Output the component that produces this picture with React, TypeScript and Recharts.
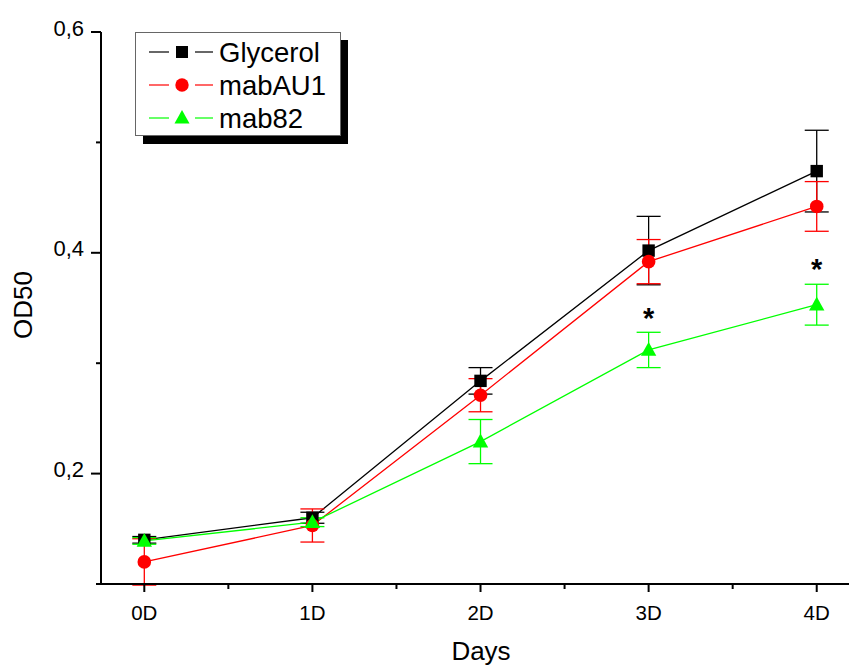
import React from 'react';
import { LineChart, Line, XAxis, YAxis, ErrorBar } from 'recharts';

const dayLabels = ['0D', '1D', '2D', '3D', '4D'];
const glycerol = [0.14, 0.16, 0.284, 0.402, 0.474];
const glycerolErr = [0.003, 0.005, 0.012, 0.031, 0.037];
const mabAU1 = [0.12, 0.153, 0.271, 0.392, 0.442];
const mabAU1Err = [0.021, 0.015, 0.015, 0.02, 0.0225];
const mab82 = [0.139, 0.156, 0.229, 0.312, 0.353];
const mab82Err = [0.003, 0.004, 0.02, 0.016, 0.0185];
const asterisks = [null, null, null, 0.346, 0.391];

const xTicks = [0, 0.5, 1, 1.5, 2, 2.5, 3, 3.5, 4];
const yTicks = [0.1, 0.2, 0.3, 0.4, 0.5, 0.6];
const yLabelled = [0.2, 0.4, 0.6];

const data = dayLabels.map((d, i) => ({
  x: i,
  gly: glycerol[i],
  glyErr: glycerolErr[i],
  au: mabAU1[i],
  auErr: mabAU1Err[i],
  m82: mab82[i],
  m82Err: mab82Err[i],
  star: asterisks[i],
}));

const FONT = '"Liberation Sans", Arial, sans-serif';
const BLACK = '#000000';
const RED = '#ff0000';
const GREEN = '#00ff00';

const XTick = (props: any) => {
  const { x, y, payload } = props;
  const v = payload.value;
  const major = Number.isInteger(v);
  return (
    <g>
      <line x1={x} x2={x} y1={y} y2={y + (major ? 8 : 5)} stroke="#000" strokeWidth={2} />
      {major && (
        <text x={x} y={y + 36} textAnchor="middle" fontSize={20.5} fontFamily={FONT} fill="#000">
          {dayLabels[v]}
        </text>
      )}
    </g>
  );
};

const YTick = (props: any) => {
  const { x, y, payload } = props;
  const v = Math.round(payload.value * 10) / 10;
  const labelled = yLabelled.some((t) => Math.abs(t - v) < 1e-6);
  const len = labelled ? 10 : 5;
  return (
    <g>
      <line x1={x - len} x2={x} y1={y} y2={y} stroke="#000" strokeWidth={2} />
      {labelled && (
        <text x={x - 17} y={y + 3.5} textAnchor="end" fontSize={22} fontFamily={FONT} fill="#000">
          {v.toFixed(1).replace('.', ',')}
        </text>
      )}
    </g>
  );
};

const SquareDot = (props: any) => {
  const { cx, cy } = props;
  if (cx == null || cy == null) return <g />;
  return <rect x={cx - 6.2} y={cy - 6.2} width={12.4} height={12.4} fill={BLACK} />;
};

const CircleDot = (props: any) => {
  const { cx, cy } = props;
  if (cx == null || cy == null) return <g />;
  return <circle cx={cx} cy={cy} r={6.8} fill={RED} />;
};

const TriDot = (props: any) => {
  const { cx, cy } = props;
  if (cx == null || cy == null) return <g />;
  return <polygon points={`${cx},${cy - 8} ${cx + 7.7},${cy + 5.8} ${cx - 7.7},${cy + 5.8}`} fill={GREEN} />;
};

const StarDot = (props: any) => {
  const { cx, cy, payload } = props;
  if (cx == null || cy == null || payload.star == null) return <g />;
  return (
    <text x={cx} y={cy + 16} textAnchor="middle" fontSize={29} fontWeight="bold" fontFamily={FONT} fill="#000">
      *
    </text>
  );
};

const legendItems = [
  { name: 'Glycerol', color: BLACK, shape: 'square' },
  { name: 'mabAU1', color: RED, shape: 'circle' },
  { name: 'mab82', color: GREEN, shape: 'triangle' },
];

const LegendBox = () => (
  <svg width={849} height={666} style={{ position: 'absolute', left: 0, top: 0, pointerEvents: 'none' }}>
    <rect x={143} y={40} width={205} height={104} fill="#000" />
    <rect x={135.5} y={32.5} width={205} height={103} fill="#fff" stroke="#666" strokeWidth={1} />
    {legendItems.map((it, i) => {
      const cy = 52 + i * 33;
      const cx = 182;
      return (
        <g key={it.name}>
          <line x1={149} x2={169} y1={cy} y2={cy} stroke={it.color} strokeWidth={1.2} />
          <line x1={195} x2={213} y1={cy} y2={cy} stroke={it.color} strokeWidth={1.2} />
          {it.shape === 'square' && <rect x={cx - 6} y={cy - 6} width={12} height={12} fill={it.color} />}
          {it.shape === 'circle' && <circle cx={cx} cy={cy} r={6.7} fill={it.color} />}
          {it.shape === 'triangle' && (
            <polygon points={`${cx},${cy - 8} ${cx + 7.5},${cy + 5.5} ${cx - 7.5},${cy + 5.5}`} fill={it.color} />
          )}
          <text x={219} y={cy + 10} fontSize={27.5} fontFamily={FONT} fill="#000">
            {it.name}
          </text>
        </g>
      );
    })}
  </svg>
);

export default function App() {
  return (
    <div style={{ position: 'absolute', left: 0, top: 0, width: 849, height: 666, background: '#fff' }}>
      <LineChart
        width={849}
        height={666}
        data={data}
        margin={{ top: 32, right: 0, left: 0, bottom: 0 }}
      >
        <XAxis
          dataKey="x"
          type="number"
          domain={[-0.2576, 4.192]}
          ticks={xTicks}
          allowDataOverflow
          height={82}
          tickSize={0}
          tickMargin={0}
          tickLine={false}
          tick={<XTick />}
          interval={0}
          axisLine={{ stroke: '#000', strokeWidth: 2 }}
          label={{
            value: 'Days',
            position: 'insideBottom',
            offset: 6,
            dx: 6,
            style: { fontSize: 26, fontFamily: FONT, fill: '#000' },
          }}
        />
        <YAxis
          type="number"
          domain={[0.1, 0.6]}
          ticks={yTicks}
          allowDataOverflow
          width={101}
          tickSize={0}
          tickMargin={0}
          tickLine={false}
          tick={<YTick />}
          interval={0}
          axisLine={{ stroke: '#000', strokeWidth: 2 }}
          label={{
            value: 'OD50',
            angle: -90,
            position: 'insideLeft',
            offset: 23,
            dy: -3,
            style: { fontSize: 26, fontFamily: FONT, fill: '#000', textAnchor: 'middle' },
          }}
        />
        <Line
          dataKey="gly"
          stroke={BLACK}
          strokeWidth={1.3}
          dot={<SquareDot />}
          activeDot={false}
          isAnimationActive={false}
        >
          <ErrorBar dataKey="glyErr" width={12} stroke={BLACK} strokeWidth={1.3} direction="y" />
        </Line>
        <Line
          dataKey="au"
          stroke={RED}
          strokeWidth={1.3}
          dot={<CircleDot />}
          activeDot={false}
          isAnimationActive={false}
        >
          <ErrorBar dataKey="auErr" width={12} stroke={RED} strokeWidth={1.3} direction="y" />
        </Line>
        <Line
          dataKey="m82"
          stroke={GREEN}
          strokeWidth={1.3}
          dot={<TriDot />}
          activeDot={false}
          isAnimationActive={false}
        >
          <ErrorBar dataKey="m82Err" width={12} stroke={GREEN} strokeWidth={1.3} direction="y" />
        </Line>
        <Line
          dataKey="star"
          stroke="none"
          dot={<StarDot />}
          activeDot={false}
          legendType="none"
          isAnimationActive={false}
        />
      </LineChart>
      <LegendBox />
    </div>
  );
}
